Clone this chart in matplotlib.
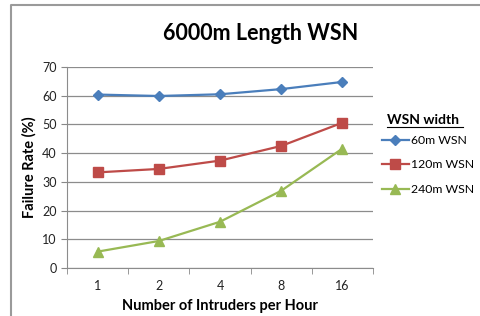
import matplotlib
matplotlib.use('Agg')
import matplotlib.pyplot as plt
from matplotlib.lines import Line2D

# data
intruders = ['1', '2', '4', '8', '16']
w60 = [60.4, 59.9, 60.5, 62.3, 64.8]
w120 = [33.3, 34.5, 37.4, 42.5, 50.6]
w240 = [5.7, 9.4, 16.1, 26.9, 41.6]
labels = ['60m WSN', '120m WSN', '240m WSN']

plt.rcParams['font.family'] = ['Lato', 'DejaVu Sans']

fig = plt.figure(figsize=(4.8, 3.16), dpi=100)
ax = fig.add_axes([67/480, 48/316, 306/480, 201/316])

x = range(len(intruders))
ax.plot(x, w60, '-D', color='#4a7ebb', lw=1.6, ms=5, label=labels[0])
ax.plot(x, w120, '-s', color='#be4b48', lw=1.6, ms=7, label=labels[1])
ax.plot(x, w240, '-^', color='#98b954', lw=1.6, ms=7.5, label=labels[2])

ax.set_xlim(-0.5, 4.5)
ax.set_ylim(0, 70)
ax.set_yticks(range(0, 71, 10))
ax.set_xticks(list(x))
ax.set_xticklabels(intruders)
ax.set_xticks([i - 0.5 for i in range(6)], minor=True)
ax.tick_params(axis='x', which='major', length=0, pad=9, labelsize=9, colors='#222222')
ax.tick_params(axis='x', which='minor', length=4, color='#888888')
ax.tick_params(axis='y', length=4, color='#888888', labelsize=9, labelcolor='#222222')
ax.grid(axis='y', color='#8c8c8c', lw=0.9)
ax.set_axisbelow(True)
for s in ['top', 'right']:
    ax.spines[s].set_visible(False)
for s in ['left', 'bottom']:
    ax.spines[s].set_color('#8c8c8c')

ax.set_xlabel('Number of Intruders per Hour', fontsize=10.5, fontweight='bold', labelpad=5)
ax.set_ylabel('Failure Rate (%)', fontsize=10.5, fontweight='bold', labelpad=4)
fig.text(261/480, 1 - 33/316, '6000m Length WSN', ha='center', va='center',
         fontsize=15.5, fontweight='bold')

# legend
leg = fig.legend(loc='upper left', bbox_to_anchor=(371/480, 1 - 124/316), frameon=False,
                 fontsize=8.8, handlelength=2.2, handletextpad=0.15, labelspacing=1.1)
fig.text(387/480, 1 - 120/316, 'WSN width', ha='left', va='center',
         fontsize=10, fontweight='bold')
fig.add_artist(Line2D([387/480, 463/480], [1 - 126.5/316, 1 - 126.5/316], color='black', lw=0.8))

# outer frame
fig.add_artist(Line2D([11/480, 11/480, 1], [0, 1 - 4.5/316, 1 - 4.5/316], color='#9a9a9a', lw=1.5))

fig.savefig('out.png', dpi=100)
